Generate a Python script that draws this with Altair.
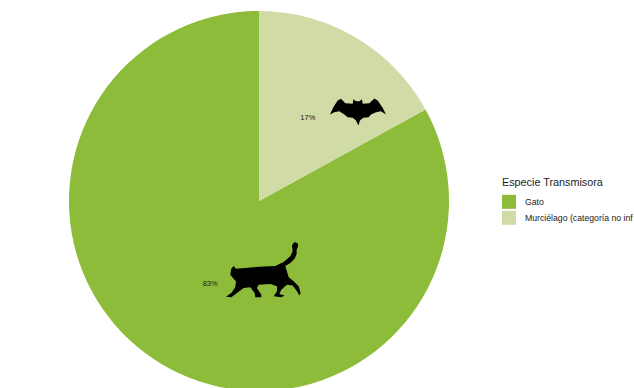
import altair as alt
import pandas as pd

especies = ["Gato", "Murciélago (categoría no inf"]
porcentajes = [83, 17]
etiquetas = ["83%", "17%"]
colores = ["#8DBB3A", "#D0DBA6"]

CAT_OUTLINE = [
    (218, 12), (228, 16), (228, 25), (224, 35), (224, 48), (218, 62), (205, 75),
    (190, 84), (195, 100), (200, 118), (215, 130), (230, 145), (236, 165), (232, 172),
    (225, 160), (212, 142), (195, 140), (178, 155), (172, 168), (188, 172), (178, 178),
    (155, 175), (165, 160), (165, 145), (145, 138), (110, 140), (105, 150), (118, 170),
    (118, 178), (100, 178), (98, 165), (85, 148), (65, 150), (45, 165), (28, 178),
    (12, 176), (28, 165), (40, 148), (42, 130), (35, 122), (25, 110), (28, 92),
    (35, 84), (42, 92), (70, 90), (110, 86), (160, 84), (185, 72), (205, 55),
    (212, 40), (210, 22),
]
BAT_OUTLINE = [
    (12, 62), (22, 40), (35, 20), (45, 15), (58, 28), (80, 30), (82, 16), (90, 22),
    (100, 22), (108, 16), (110, 30), (130, 28), (145, 14), (155, 20), (170, 42),
    (180, 62), (165, 52), (150, 55), (135, 62), (128, 70), (112, 72), (102, 80),
    (97, 95), (90, 80), (80, 72), (65, 70), (55, 62), (40, 52), (25, 55),
]


def silhouette(outline):
    """Turn an outline into a symbol path centred on the origin, spanning -1..1 in x."""
    xs = [p[0] for p in outline]
    ys = [p[1] for p in outline]
    cx, cy = (min(xs) + max(xs)) / 2, (min(ys) + max(ys)) / 2
    half = (max(xs) - min(xs)) / 2
    pts = [f"{(x - cx) / half:.3f},{(y - cy) / half:.3f}" for x, y in outline]
    return "M" + " L".join(pts) + " Z"


datos = pd.DataFrame({"especie": especies, "pct": porcentajes, "etiqueta": etiquetas})
CX, CY, R = 259, 201, 190

color = alt.Color(
    "especie:N",
    scale=alt.Scale(domain=especies, range=colores),
    legend=alt.Legend(
        title="Especie Transmisora",
        orient="none",
        legendX=502,
        legendY=177,
        padding=0,
        titleFont="Liberation Sans",
        titleFontSize=10.8,
        titleFontWeight="normal",
        titleColor="#222222",
        titlePadding=7,
        labelFont="Liberation Sans",
        labelFontSize=8.7,
        labelColor="#222222",
        labelLimit=300,
        labelOffset=9,
        symbolType="square",
        symbolSize=196,
        symbolStrokeWidth=0,
        symbolOpacity=1,
        rowPadding=2,
    ),
)
theta = alt.Theta("pct:Q", stack=True)
orden = alt.Order("especie:N", sort="descending")

pastel = (
    alt.Chart(datos)
    .mark_arc(outerRadius=R)
    .encode(theta=theta, color=color, order=orden, x=alt.value(CX), y=alt.value(CY))
)
rotulos = (
    alt.Chart(datos)
    .mark_text(radius=96, font="Liberation Sans", fontSize=7.5, color="#222222")
    .encode(theta=theta, text="etiqueta:N", order=orden, x=alt.value(CX), y=alt.value(CY))
)
gato = (
    alt.Chart(datos)
    .mark_point(shape=silhouette(CAT_OUTLINE), size=5576, filled=True, color="black", opacity=1, strokeWidth=0)
    .transform_filter(alt.datum.especie == especies[0])
    .encode(x=alt.value(263.3), y=alt.value(269.7))
)
murcielago = (
    alt.Chart(datos)
    .mark_point(shape=silhouette(BAT_OUTLINE), size=3136, filled=True, color="black", opacity=1, strokeWidth=0)
    .transform_filter(alt.datum.especie == especies[1])
    .encode(x=alt.value(358), y=alt.value(112))
)

chart = (
    alt.layer(pastel, rotulos, gato, murcielago)
    .properties(width=634, height=388, padding=0, autosize=alt.AutoSizeParams(type="none"))
    .configure_view(stroke=None)
)
chart.save("out.html", embed_options={"renderer": "svg", "actions": False})
